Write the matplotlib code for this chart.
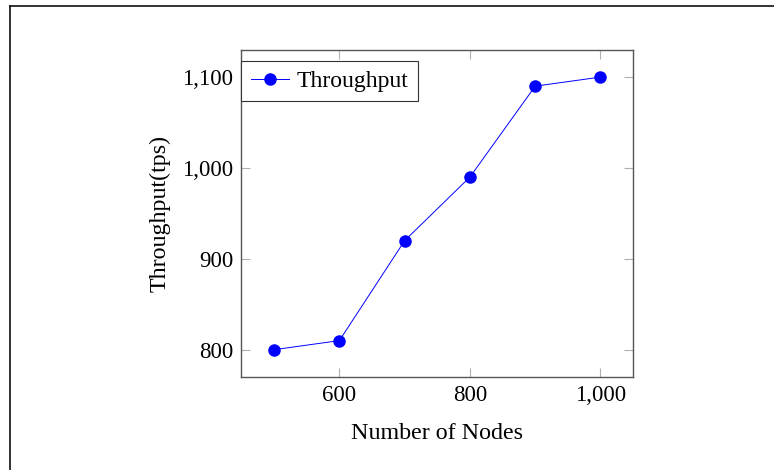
import matplotlib
matplotlib.use("Agg")
import matplotlib.pyplot as plt
from matplotlib.lines import Line2D
from matplotlib.ticker import FuncFormatter

plt.rcParams["font.family"] = ["Liberation Serif", "DejaVu Serif"]

nodes = [500, 600, 700, 800, 900, 1000]
throughput = [800, 810, 920, 990, 1090, 1100]
x_ticks = [600, 800, 1000]
y_ticks = [800, 900, 1000, 1100]

SPINE, TICK = "#555555", "#b0b0b0"

fig = plt.figure(figsize=(7.74, 4.70), dpi=100)
ax = fig.add_axes([0.312, 0.198, 0.506, 0.696])

ax.plot(nodes, throughput, color="#0000ff", lw=0.7, marker="o",
        markersize=8, markerfacecolor="#0000ff", markeredgecolor="#0000ff",
        label="Throughput")

ax.set_xlim(450, 1050)
ax.set_ylim(770, 1130)
ax.set_xticks(x_ticks)
ax.set_yticks(y_ticks)
fmt = FuncFormatter(lambda v, _: f"{int(v):,}")
ax.xaxis.set_major_formatter(fmt)
ax.yaxis.set_major_formatter(fmt)
ax.tick_params(direction="in", length=6.5, width=0.8, color=TICK,
               top=True, right=True, labelsize=16.5, pad=6)
for s in ax.spines.values():
    s.set_color(SPINE)
    s.set_linewidth(1.0)

ax.set_xlabel("Number of Nodes", fontsize=17.3, labelpad=12)
ax.set_ylabel("Throughput(tps)", fontsize=17.3, labelpad=8)

leg = ax.legend(loc="upper left", bbox_to_anchor=(0.0, 0.966),
                borderaxespad=0, fontsize=17, fancybox=False,
                edgecolor="#333333", framealpha=1, handlelength=1.6,
                handletextpad=0.35, borderpad=0.4)
leg.get_frame().set_linewidth(0.8)

# page border seen on the screenshot (top and left edges)
fig.add_artist(Line2D([10 / 774, 1], [1 - 6 / 470, 1 - 6 / 470],
                      transform=fig.transFigure, color="#111111", lw=1.2))
fig.add_artist(Line2D([10 / 774, 10 / 774], [0, 1 - 6 / 470],
                      transform=fig.transFigure, color="#111111", lw=1.2))

fig.savefig("out.png", dpi=100)
